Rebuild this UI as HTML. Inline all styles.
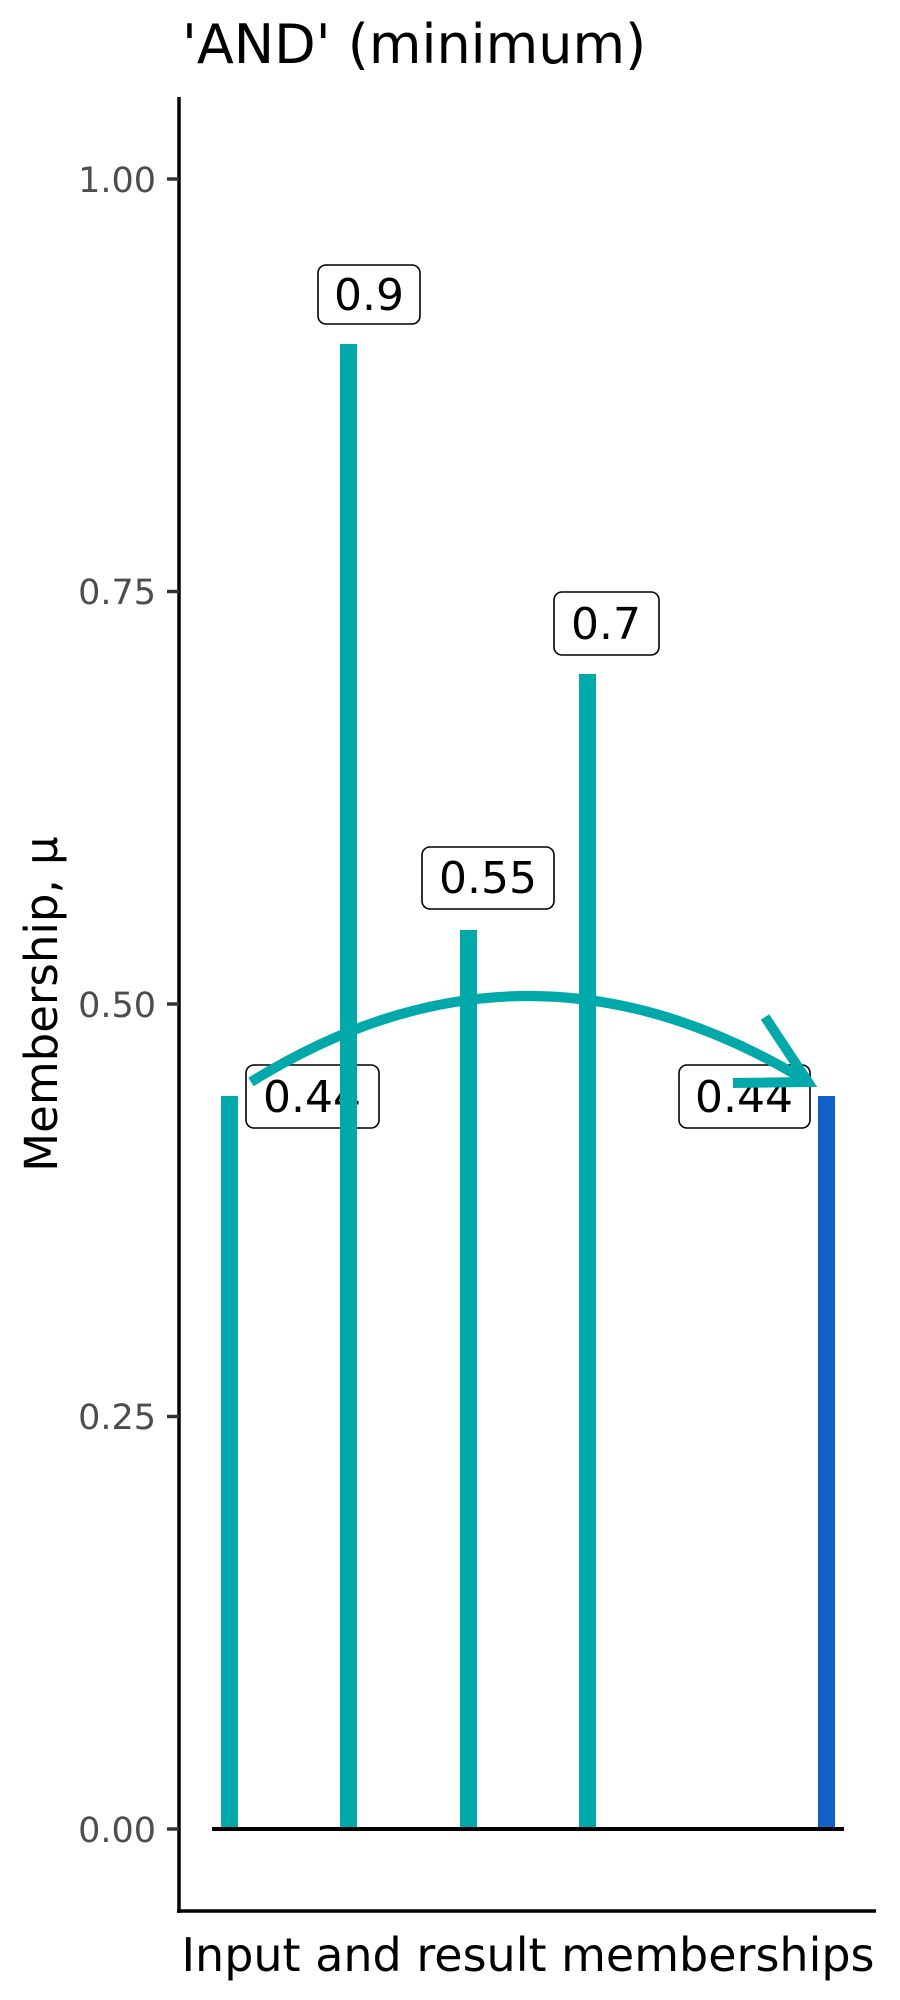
<!DOCTYPE html>
<html><head><meta charset="utf-8"><style>html,body{margin:0;padding:0;background:#fff}svg{display:block}</style></head>
<body>
<svg width="900" height="2000" viewBox="0 0 900 2000" xmlns="http://www.w3.org/2000/svg" font-family="'DejaVu Sans','Liberation Sans',sans-serif">
<text x="182" y="63" font-size="54" fill="#000">'AND' (minimum)</text>
<!-- labels -->
<g font-size="44" fill="#000" text-anchor="middle">
<rect x="318" y="265" width="102" height="59" rx="8" fill="#fff" stroke="#000" stroke-width="1.6"/>
<text x="369" y="310">0.9</text>
<rect x="422" y="847" width="132" height="62" rx="8" fill="#fff" stroke="#000" stroke-width="1.6"/>
<text x="488" y="893">0.55</text>
<rect x="554" y="592" width="105" height="63" rx="8" fill="#fff" stroke="#000" stroke-width="1.6"/>
<text x="606" y="639">0.7</text>
<rect x="246" y="1065" width="133" height="63" rx="8" fill="#fff" stroke="#000" stroke-width="1.6"/>
<text x="312" y="1112">0.44</text>
<rect x="679" y="1065" width="131" height="63" rx="8" fill="#fff" stroke="#000" stroke-width="1.6"/>
<text x="744" y="1112">0.44</text>
</g>
<!-- bars -->
<g fill="#02A9AB">
<rect x="221" y="1096" width="17" height="733"/>
<rect x="340" y="344" width="17" height="1485"/>
<rect x="460" y="930" width="17" height="899"/>
<rect x="579" y="674" width="17" height="1155"/>
</g>
<rect x="818" y="1096" width="17" height="733" fill="#1260C9"/>
<line x1="212" y1="1829" x2="844" y2="1829" stroke="#000" stroke-width="4"/>
<!-- arrow -->
<g stroke="#02A9AB" stroke-width="10" fill="none">
<path d="M251,1082 Q527,910 808,1082"/>
<path d="M765,1017 L808,1082 L733,1083"/>
</g>
<!-- axes -->
<line x1="179" y1="97" x2="179" y2="1913" stroke="#000" stroke-width="3.5"/>
<line x1="177" y1="1911" x2="876" y2="1911" stroke="#000" stroke-width="3.5"/>
<g stroke="#333" stroke-width="3.5">
<line x1="167" y1="179" x2="179" y2="179"/>
<line x1="167" y1="591.5" x2="179" y2="591.5"/>
<line x1="167" y1="1004" x2="179" y2="1004"/>
<line x1="167" y1="1416.5" x2="179" y2="1416.5"/>
<line x1="167" y1="1829" x2="179" y2="1829"/>
</g>
<g font-size="35" fill="#4d4d4d" text-anchor="end">
<text x="156" y="192">1.00</text>
<text x="156" y="604">0.75</text>
<text x="156" y="1017">0.50</text>
<text x="156" y="1429">0.25</text>
<text x="156" y="1842">0.00</text>
</g>
<text x="528" y="1971" font-size="46" text-anchor="middle" fill="#000">Input and result memberships</text>
<text transform="translate(57,1004) rotate(-90)" font-size="45" text-anchor="middle" fill="#000">Membership, μ</text>
</svg>
</body></html>
